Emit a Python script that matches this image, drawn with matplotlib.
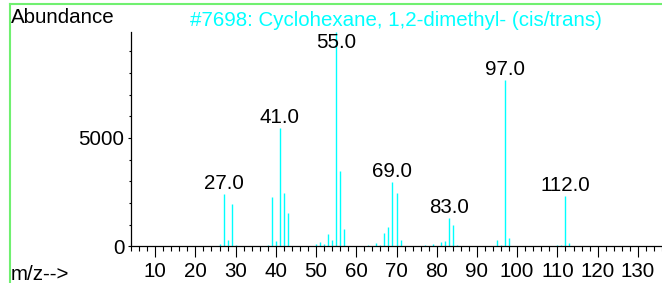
import matplotlib
matplotlib.use("Agg")
import matplotlib.pyplot as plt
from matplotlib.lines import Line2D
from matplotlib.ticker import FixedLocator, MultipleLocator

plt.rcParams['font.family'] = ['Liberation Sans', 'DejaVu Sans']

# spectrum (m/z, abundance)
mz = [26, 27, 28, 29, 30, 38, 39, 40, 41, 42, 43, 50, 51, 52, 53, 54, 55, 56, 57,
      63, 65, 66, 67, 68, 69, 70, 71, 77, 79, 81, 82, 83, 84, 85, 91,
      95, 96, 97, 98, 110, 111, 112, 113]
abundance = [110, 2420, 280, 1930, 40, 60, 2270, 240, 5480, 2480, 1530, 90, 200, 100, 580, 280, 9900, 3490, 810,
             40, 130, 40, 610, 890, 2950, 2450, 310, 50, 120, 180, 240, 1300, 970, 50, 30,
             280, 50, 7660, 360, 40, 80, 2340, 150]
labeled = [27, 41, 55, 69, 83, 97, 112]

title = "#7698: Cyclohexane, 1,2-dimethyl- (cis/trans)"

W, H = 662, 283
fs = 14.8
fig = plt.figure(figsize=(W / 100, H / 100), dpi=100)
ax = fig.add_axes([131 / W, 36.7 / H, (W - 131) / W, 214.6 / H])

ax.vlines(mz, 0, abundance, color='#00ffff', lw=1.0)

# peak labels, clamped below the top of the axes
for m, a in zip(mz, abundance):
    if m in labeled:
        ax.annotate("%.1f" % m, (m, min(a, 8900)), xytext=(0, 5), textcoords='offset pixels',
                    ha='center', va='baseline', fontsize=fs, color='black')

ax.set_xlim(4, 136)
ax.set_ylim(0, 9900)

ax.xaxis.set_major_locator(MultipleLocator(10))
ax.xaxis.set_minor_locator(MultipleLocator(2))
ax.yaxis.set_major_locator(FixedLocator([0, 5000]))
ax.yaxis.set_minor_locator(FixedLocator([1000, 2000, 3000, 4000, 6000, 7000, 8000, 9000]))
ax.set_xticks([10, 20, 30, 40, 50, 60, 70, 80, 90, 100, 110, 120, 130])

ax.tick_params(axis='x', which='major', length=7.9, width=0.8, pad=3.5, labelsize=fs)
ax.tick_params(axis='x', which='minor', length=3.6, width=0.8)
ax.tick_params(axis='y', which='major', length=2.2, width=0.8, pad=2.5, labelsize=fs)
ax.tick_params(axis='y', which='minor', length=1.2, width=0.8)

for side in ['top', 'right']:
    ax.spines[side].set_visible(False)
for side in ['left', 'bottom']:
    ax.spines[side].set_linewidth(0.9)

fig.text(11 / W, (H - 22.7) / H, "Abundance", fontsize=fs, va='baseline', ha='left')
fig.text(395.5 / W, (H - 25.5) / H, title, fontsize=fs, va='baseline', ha='center', color='#00ffff')
fig.text(11 / W, 2.5 / H, "m/z-->", fontsize=fs, va='baseline', ha='left')

# green frame edges visible in the reference
green = '#70f070'
fig.add_artist(Line2D([9.7 / W, 1], [(H - 4) / H, (H - 4) / H], color=green, lw=1.5, transform=fig.transFigure))
fig.add_artist(Line2D([9.7 / W, 9.7 / W], [0, (H - 4) / H], color=green, lw=1.5, transform=fig.transFigure))

fig.savefig("out.png", dpi=100)
